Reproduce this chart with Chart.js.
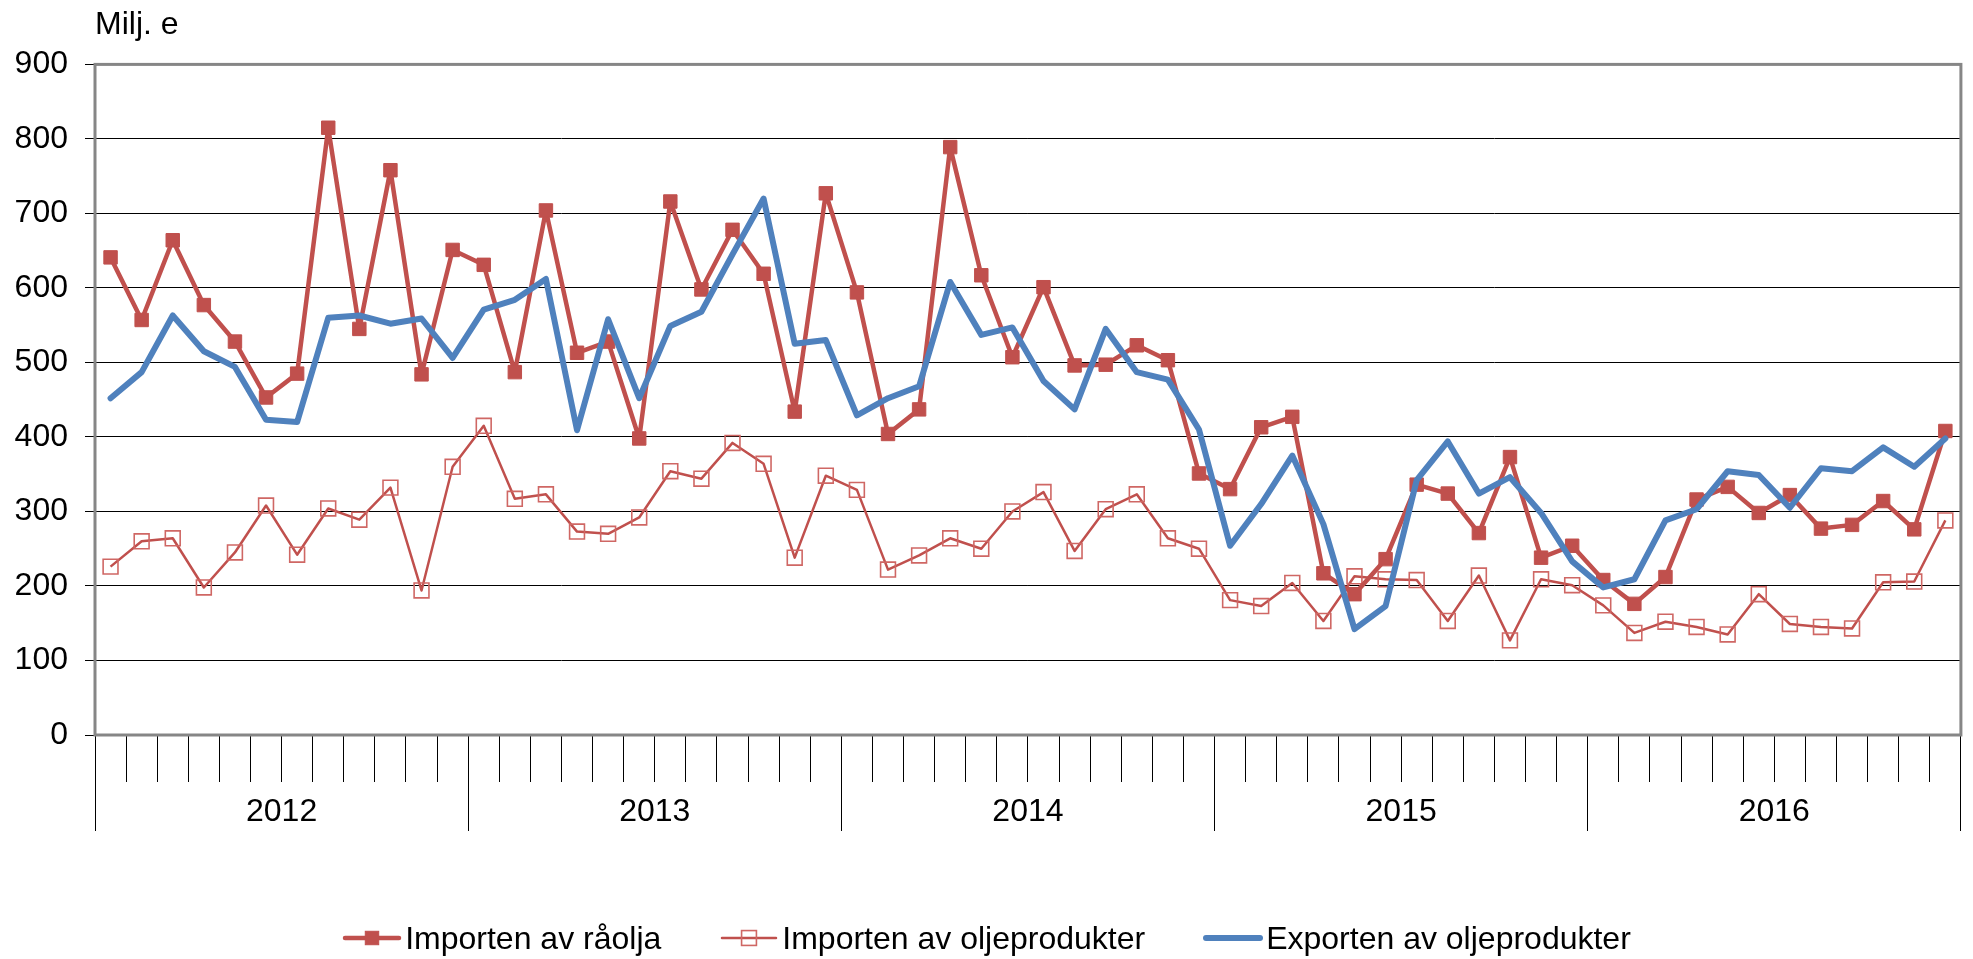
<!DOCTYPE html>
<html>
<head>
<meta charset="utf-8">
<title>Import och export av olja</title>
<script src="https://cdn.jsdelivr.net/npm/chart.js@4.4.1/dist/chart.umd.min.js"></script>
<style>
    body { margin: 0; background: #fff; }
    #wrap { position: relative; width: 1973px; height: 959px; }
    #legend {
        position: absolute; left: 0; top: 916px; width: 1973px; height: 44px;
        display: flex; justify-content: center; align-items: center; gap: 58px;
        font-family: "Liberation Sans", Arial, sans-serif; font-size: 32px; color: #000;
    }
    #legend .item { display: flex; align-items: center; white-space: nowrap; }
    #legend svg { margin-right: 3px; }
</style>
</head>
<body>
<div id="wrap">
    <canvas id="chart" width="1973" height="959"></canvas>
    <div id="legend"></div>
</div>
<script>
// Years on the category axis, twelve months each
const years = ['2012', '2013', '2014', '2015', '2016'];
const months = [];
years.forEach(y => {
    for (let m = 1; m <= 12; m++) months.push(y + '-' + String(m).padStart(2, '0'));
});

// Milj. e
const importRaolja = [
    641, 557, 664, 577, 528, 453, 485, 815, 545, 758, 484, 651,
    631, 487, 704, 513, 528, 398, 716, 598, 678, 619, 434, 727,
    594, 404, 437, 789, 617, 507, 601, 496, 497, 523, 503, 351,
    330, 413, 427, 217, 189, 236, 336, 324, 271, 373, 238, 254,
    208, 176, 212, 316, 333, 298, 322, 277, 282, 314, 276, 408
];
const importProdukter = [
    226, 260, 264, 198, 245, 308, 242, 304, 289, 332, 194, 360,
    415, 317, 323, 273, 270, 292, 354, 344, 392, 364, 238, 348,
    329, 222, 241, 264, 250, 300, 326, 247, 303, 323, 264, 250,
    181, 173, 204, 153, 213, 209, 208, 153, 214, 127, 209, 201,
    174, 137, 152, 145, 135, 189, 149, 145, 143, 205, 206, 288
];
const exportProdukter = [
    452, 487, 563, 515, 494, 423, 420, 560, 563, 552, 559, 506,
    571, 584, 612, 409, 558, 452, 549, 568, 645, 720, 525, 530,
    429, 452, 468, 608, 537, 547, 475, 437, 545, 487, 477, 410,
    254, 310, 375, 283, 142, 173, 342, 394, 324, 346, 298, 233,
    198, 209, 288, 303, 354, 349, 305, 358, 354, 386, 360, 398
];

const RED = '#C0504D';
const BLUE = '#4F81BD';

Chart.defaults.font.family = '"Liberation Sans", Arial, sans-serif';
Chart.defaults.font.size = 32;
Chart.defaults.color = '#000';

// Grey frame round the plot area
const plotBorder = {
    id: 'plotBorder',
    beforeDatasetsDraw(chart) {
        const { ctx, chartArea: a } = chart;
        ctx.save();
        ctx.strokeStyle = '#868686';
        ctx.lineWidth = 3;
        ctx.strokeRect(a.left, a.top, a.right - a.left, a.bottom - a.top);
        ctx.restore();
    }
};

const datasets = [
    {
        label: 'Importen av råolja',
        data: importRaolja,
        borderColor: RED,
        borderWidth: 4.5,
        borderJoinStyle: 'round',
        pointStyle: 'rect',
        pointRadius: 9.5,
        pointBackgroundColor: RED,
        pointBorderColor: RED,
        pointBorderWidth: 1,
        order: 1
    },
    {
        label: 'Importen av oljeprodukter',
        data: importProdukter,
        borderColor: RED,
        borderWidth: 2.5,
        borderJoinStyle: 'round',
        pointStyle: 'rect',
        pointRadius: 10.5,
        pointBackgroundColor: 'rgba(0,0,0,0)',
        pointBorderColor: '#CF6764',
        pointBorderWidth: 1.6,
        order: 2
    },
    {
        label: 'Exporten av oljeprodukter',
        data: exportProdukter,
        borderColor: BLUE,
        borderWidth: 6,
        borderJoinStyle: 'round',
        borderCapStyle: 'round',
        pointRadius: 0,
        order: 0
    }
];

const chart = new Chart(document.getElementById('chart'), {
    type: 'line',
    data: { labels: months, datasets: datasets },
    options: {
        responsive: false,
        animation: false,
        events: [],
        layout: { padding: { left: 0, right: 8, top: 0, bottom: 128 } },
        elements: { line: { tension: 0 } },
        plugins: {
            legend: { display: false },
            tooltip: { enabled: false },
            title: {
                display: true,
                text: 'Milj. e',
                align: 'start',
                fullSize: false,
                font: { size: 32, weight: 'normal' },
                padding: { top: 6, bottom: 20 }
            }
        },
        scales: {
            y: {
                min: 0,
                max: 900,
                ticks: { stepSize: 100, padding: 17 },
                grid: { color: '#000', lineWidth: 1, tickLength: 10 },
                border: { display: false },
                afterFit(scale) { scale.width = 95; }
            },
            x: {
                type: 'category',
                offset: true,
                ticks: { display: false, autoSkip: false },
                grid: { offset: true, drawOnChartArea: false, tickLength: 47, color: '#000', lineWidth: 1 },
                border: { display: false }
            },
            x2: {
                type: 'category',
                position: 'bottom',
                labels: years,
                offset: true,
                ticks: { padding: -38, maxRotation: 0, autoSkip: false },
                grid: { offset: true, drawOnChartArea: false, tickLength: 49, color: '#000', lineWidth: 1 },
                border: { display: false },
                afterFit(scale) { scale.height = 49; }
            }
        }
    },
    plugins: [plotBorder]
});

// Legend below the chart, built from the datasets
function legendMarker(ds) {
    const ns = 'http://www.w3.org/2000/svg';
    const svg = document.createElementNS(ns, 'svg');
    svg.setAttribute('width', 60);
    svg.setAttribute('height', 24);
    const line = document.createElementNS(ns, 'line');
    line.setAttribute('x1', 3); line.setAttribute('x2', 57);
    line.setAttribute('y1', 12); line.setAttribute('y2', 12);
    line.setAttribute('stroke', ds.borderColor);
    line.setAttribute('stroke-width', ds.borderWidth);
    line.setAttribute('stroke-linecap', 'round');
    svg.appendChild(line);
    if (ds.pointRadius > 0) {
        const s = ds.pointRadius * Math.SQRT2;
        const r = document.createElementNS(ns, 'rect');
        r.setAttribute('x', 30 - s / 2); r.setAttribute('y', 12 - s / 2);
        r.setAttribute('width', s); r.setAttribute('height', s);
        r.setAttribute('fill', ds.pointBackgroundColor);
        r.setAttribute('stroke', ds.pointBorderColor);
        r.setAttribute('stroke-width', ds.pointBorderWidth);
        svg.appendChild(r);
    }
    return svg;
}

const legend = document.getElementById('legend');
chart.data.datasets.forEach(ds => {
    const item = document.createElement('div');
    item.className = 'item';
    item.appendChild(legendMarker(ds));
    const text = document.createElement('span');
    text.textContent = ds.label;
    item.appendChild(text);
    legend.appendChild(item);
});
</script>
</body>
</html>
